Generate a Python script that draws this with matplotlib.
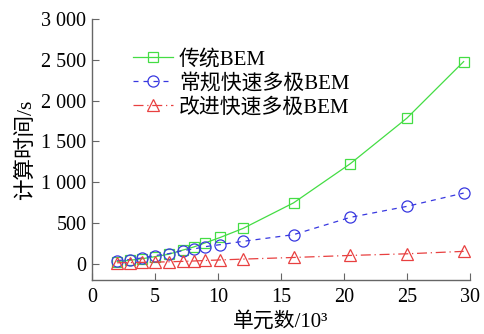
import matplotlib
matplotlib.use('Agg')
import matplotlib.pyplot as plt
from matplotlib.ticker import FuncFormatter

plt.rcParams['font.family'] = ['Liberation Serif', 'Noto Sans CJK SC']

# element count (x10^3)
n_elem = [2.0, 3.0, 4.0, 5.0, 6.1, 7.2, 8.1, 9.0, 10.2, 12.0, 16.0, 20.5, 25.0, 29.5]
t_bem = [25, 40, 60, 85, 115, 165, 205, 255, 322, 432, 745, 1225, 1785, 2478]
t_fmm = [37, 49, 70, 98, 122, 159, 180, 208, 233, 273, 355, 567, 702, 865]
t_new = [10, 12, 15, 18, 22, 27, 32, 38, 45, 55, 75, 100, 120, 150]
labels = ['传统BEM', '常规快速多极BEM', '改进快速多极BEM']


def thousands(v, pos):
    s = '{:,.0f}'.format(v)
    return s.replace(',', ' ')


def main():
    fig = plt.figure(figsize=(4.84, 3.34), dpi=100)
    ax = fig.add_axes([0.190, 0.162, 0.781, 0.781])

    ax.plot(n_elem, t_bem, color='#44dd44', lw=0.9, ls='-', marker='s', ms=7,
            mfc='none', mec='#44dd44', mew=0.9, label=labels[0])
    ax.plot(n_elem, t_fmm, color='#3838e0', lw=0.9, ls=(0, (4, 4)), marker='o', ms=8,
            mfc='none', mec='#3838e0', mew=0.9, label=labels[1])
    ax.plot(n_elem, t_new, color='#e84040', lw=0.9, ls=(0, (8, 3, 1, 3)), marker='^', ms=9,
            mfc='none', mec='#e84040', mew=0.9, label=labels[2])

    ax.set_xlim(0, 30)
    ax.set_ylim(-200, 3000)
    ax.set_xticks(range(0, 31, 5))
    ax.set_yticks(range(0, 3001, 500))
    ax.yaxis.set_major_formatter(FuncFormatter(thousands))

    for s in ['top', 'right']:
        ax.spines[s].set_visible(False)
    for s in ['left', 'bottom']:
        ax.spines[s].set_color('#666666')
        ax.spines[s].set_linewidth(1.0)
    ax.tick_params(direction='in', length=5, color='#666666', labelsize=14.5, pad=4)
    ax.tick_params(axis='x', pad=6)

    ax.set_xlabel('单元数/10³', fontsize=15, labelpad=3)
    ax.set_ylabel('计算时间/s', fontsize=15.5, labelpad=4)

    ax.legend(loc='upper left', bbox_to_anchor=(0.087, 0.915), frameon=False,
              fontsize=15, handlelength=1.9, labelspacing=0.2, handletextpad=0.3,
              borderaxespad=0)

    fig.savefig('out.png', dpi=100)
    plt.close(fig)


if __name__ == '__main__':
    main()
